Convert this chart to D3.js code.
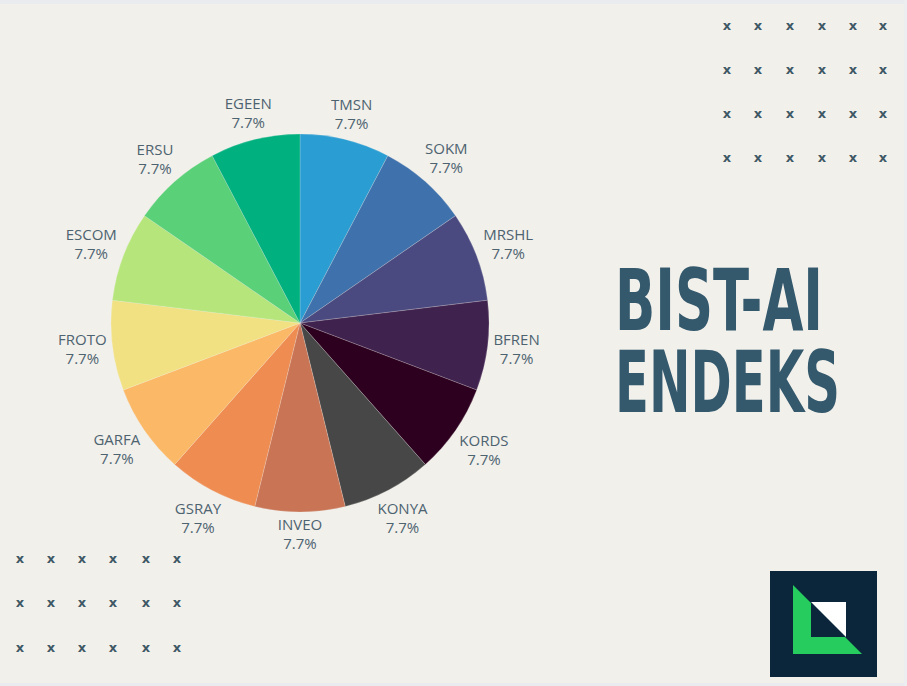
<!DOCTYPE html>
<html>
<head>
<meta charset="utf-8">
<script src="https://cdn.jsdelivr.net/npm/d3@7"></script>
<style>
	html, body { margin: 0; padding: 0; background: #f2f0eb; }
	svg { display: block; }
</style>
</head>
<body>
<svg id="chart" width="907" height="686"></svg>
<script>
// -- data --//
const tickers = ['TMSN', 'SOKM', 'MRSHL', 'BFREN', 'KORDS', 'KONYA', 'INVEO',
	'GSRAY', 'GARFA', 'FROTO', 'ESCOM', 'ERSU', 'EGEEN'];
const weights = [1, 1, 1, 1, 1, 1, 1, 1, 1, 1, 1, 1, 1];
const sliceColors = ['#2a9dd2', '#3f72ad', '#4a4a80', '#40224f', '#2e0020', '#474747', '#c97455',
	'#ef8c52', '#fbb866', '#f2e182', '#b6e67b', '#5ad078', '#00b07f'];
const titleLines = ['BIST-AI', 'ENDEKS'];
const gridTopRight = { cols: [727, 758, 790, 822, 853, 883], rows: [25, 69, 113, 157] };
const gridBottomLeft = { cols: [20, 51, 82, 113, 146, 177], rows: [558, 602, 647] };

const svg = d3.select('#chart');
const textColor = '#4d6370';
const titleColor = '#34596d';

// page frame: faint lighter band at top and bottom
svg.append('rect').attr('x', 0).attr('y', 0).attr('width', 907).attr('height', 686).attr('fill', '#f2f0eb');
svg.append('rect').attr('x', 0).attr('y', 0).attr('width', 907).attr('height', 4).attr('fill', '#eaebee');
svg.append('rect').attr('x', 0).attr('y', 683).attr('width', 907).attr('height', 3).attr('fill', '#eaebee');
svg.append('rect').attr('x', 904).attr('y', 0).attr('width', 3).attr('height', 686).attr('fill', '#eceef0');

//-- pie --//
const cx = 300, cy = 323, radius = 189;
const total = d3.sum(weights);

const pie = d3.pie().sort(null).value(d => d.value);
const arc = d3.arc().innerRadius(0).outerRadius(radius);
const arcs = pie(tickers.map((t, i) => ({ name: t, value: weights[i], color: sliceColors[i] })));

const pieGroup = svg.append('g').attr('transform', `translate(${cx},${cy})`);

pieGroup.selectAll('path')
	.data(arcs)
	.join('path')
	.attr('d', arc)
	.attr('fill', d => d.data.color)
	.attr('stroke', '#f2f0eb')
	.attr('stroke-opacity', 0.35)
	.attr('stroke-width', 0.6);

// outside labels: label box centre pushed out radially by its half extent
const labelGap = 4;
const labels = pieGroup.selectAll('g.label')
	.data(arcs)
	.join('g')
	.attr('class', 'label');

labels.each(function(d) {
	const g = d3.select(this);
	const pct = (d.data.value / total * 100).toFixed(1) + '%';
	const name = g.append('text')
		.attr('text-anchor', 'middle')
		.attr('font-family', '"Open Sans", sans-serif')
		.attr('font-size', 15)
		.attr('fill', textColor)
		.attr('y', -4)
		.text(d.data.name);
	const val = g.append('text')
		.attr('text-anchor', 'middle')
		.attr('font-family', '"Open Sans", sans-serif')
		.attr('font-size', 15)
		.attr('fill', textColor)
		.attr('y', 15)
		.text(pct);

	const w = Math.max(name.node().getComputedTextLength(), val.node().getComputedTextLength());
	const h = 36;
	const a = (d.startAngle + d.endAngle) / 2;
	const s = Math.sin(a), c = -Math.cos(a);
	const r = radius + labelGap + (w / 2) * Math.abs(s) + (h / 2) * Math.abs(c);
	g.attr('transform', `translate(${r * s},${r * c})`);
});

//-- title --//
const titleGroup = svg.append('g');
const titleSpec = [
	{ text: titleLines[0], x: 615, y: 330, len: 208 },
	{ text: titleLines[1], x: 615, y: 412, len: 225 }
];
titleGroup.selectAll('text')
	.data(titleSpec)
	.join('text')
	.attr('x', d => d.x)
	.attr('y', d => d.y)
	.attr('font-family', '"DejaVu Sans Condensed", "DejaVu Sans", sans-serif')
	.attr('font-weight', 'bold')
	.attr('font-size', 85)
	.attr('textLength', d => d.len)
	.attr('lengthAdjust', 'spacingAndGlyphs')
	.attr('fill', titleColor)
	.text(d => d.text);

//-- decorative x grids --//
function drawGrid(grid) {
	const pts = [];
	grid.rows.forEach(y => grid.cols.forEach(x => pts.push([x, y])));
	svg.append('g').selectAll('text')
		.data(pts)
		.join('text')
		.attr('x', d => d[0])
		.attr('y', d => d[1])
		.attr('dy', '0.35em')
		.attr('text-anchor', 'middle')
		.attr('font-family', '"DejaVu Sans", sans-serif')
		.attr('font-weight', 'bold')
		.attr('font-size', 13)
		.attr('fill', '#3e5866')
		.text('x');
}
drawGrid(gridTopRight);
drawGrid(gridBottomLeft);

//-- logo --//
const logo = svg.append('g');
logo.append('rect').attr('x', 770).attr('y', 571).attr('width', 107).attr('height', 106).attr('fill', '#0b263a');
logo.append('path').attr('d', 'M793,585 L793,654 L862,654 Z').attr('fill', '#27cc5e');
logo.append('rect').attr('x', 811).attr('y', 602).attr('width', 35).attr('height', 35).attr('fill', '#0b263a');
logo.append('path').attr('d', 'M811,602 L846,602 L846,637 Z').attr('fill', '#ffffff');
</script>
</body>
</html>
